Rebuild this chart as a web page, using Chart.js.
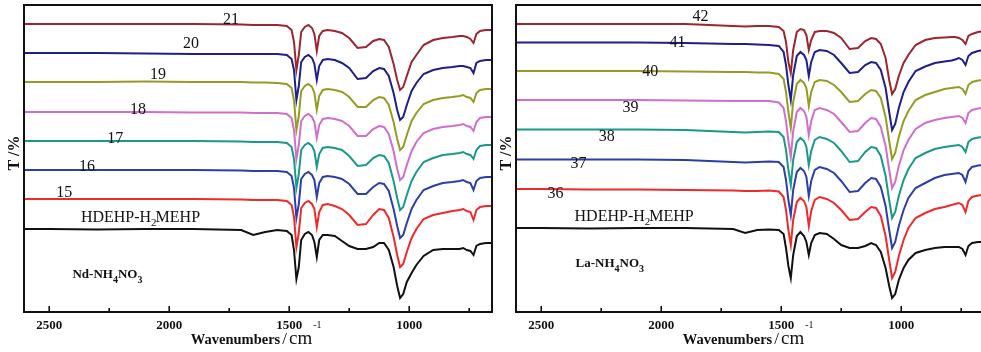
<!DOCTYPE html>
<html><head><meta charset="utf-8">
<script src="https://cdn.jsdelivr.net/npm/chart.js@4.4.1/dist/chart.umd.min.js"></script>
<style>
html,body{margin:0;padding:0;background:#fff;overflow:hidden;width:981px;height:352px;}
#wrap{position:relative;width:981px;height:352px;overflow:hidden;}
canvas{position:absolute;top:0;}
#cL{left:0;} #cR{left:495px;}
</style></head><body>
<div id="wrap"><canvas id="cL" width="500" height="352"></canvas><canvas id="cR" width="510" height="352"></canvas></div>
<script>
// Wavenumbers (cm-1) at which each spectrum was read
const wavenumbers = [2605,2500,2300,2100,1900,1700,1650,1600,1550,1510,1490,1480,1470,1460,1450,1435,1420,1405,1395,1385,1375,1360,1340,1310,1280,1250,1215,1180,1150,1125,1105,1085,1065,1050,1038,1025,1010,990,970,940,900,860,820,790,775,760,745,732,720,705,680,655];

// Nd-NH4NO3 panel (stacked transmittance, arbitrary units)
const ndRef = [83,83,82.5,83,83,82,77,80,82,81, 77,62,33,45,72, 78,80,77,70,55, 72,77,77,76,71, 66,63,63,65,69, 69,62,45,26,14, 18,30,39,47,56, 62,63,63,63,64, 62,61,57,66,68, 69,69];
const nd15 = [113,113,113,113,113,112.5,112,112,112,111, 107,95,65,79,104, 109,111,108,103,85, 100,107,108,106,103, 97,87,88,97,103, 102,94,75,57,45, 48,60,74,83,93, 97,99,101,102,103, 101,100,92,102,105, 106,106];
const nd16 = [142,142,142,142,142,141.5,141,141,141,140, 136,124,94,108,133, 138,140,137,132,115, 129,135,136,135,133, 128,118,118,125,129, 128,121,103,86,74, 77,89,103,112,122, 126,129,130,131,132, 130,129,122,131,134, 135,135];
const nd17 = [171,171,171,171,171,170.5,170,170,170,169, 165,153,124,138,162, 167,169,166,161,145, 158,164,165,164,162, 156,146,147,154,157, 156,149,131,114,102, 105,117,131,140,150, 154,157,158,159,160, 158,157,153,162,166, 167,167];
const nd18 = [200,200,200,200,199.5,199.5,199,199,199,198, 194,182,153,167,191, 196,198,195,190,174, 187,193,194,193,191, 186,176,176,183,186, 185,178,161,143,132, 135,147,161,170,179, 183,185,186,187,188, 186,185,181,190,194, 195,195];
const nd19 = [230,230,230,230.5,230,230,229.5,229.5,229,228, 224,212,182,196,221, 226,228,225,219,202, 216,222,223,222,220, 215,205,205,212,215, 214,207,190,173,162, 165,177,191,199,208, 212,214,215,216,217, 215,214,210,219,222, 223,223];
const nd20 = [259,259,259,258.5,258,258,258,258,258,257, 253,242,212,226,250, 255,257,254,248,232, 246,252,253,252,249, 244,233,234,241,244, 243,236,219,202,192, 195,207,221,229,238, 242,244,245,246,246, 245,244,239,249,251, 252,252];
const nd21 = [288,288,288,288,288,287.5,287,287,287,286, 282,270,242,257,280, 285,287,284,278,261, 276,281,282,281,279, 274,264,265,271,273, 272,265,248,232,222, 225,236,250,257,267, 272,274,275,276,276, 275,273,269,278,281, 282,282];

// La-NH4NO3 panel
const laRef = [84,84,83.5,84,84,83,79,82,82.5,82, 78,64,46,34,57, 76,80,76,70,57, 69,77,79,78,73, 67,64,64,66,69, 67,60,44,26,14, 18,32,44,52,59, 62,64,65,65,65, 65,63,57,66,69, 70,70];
const la36 = [123,123,122.5,122.5,122,121.5,121,121,121.5,120.5, 115,102,82,67,92, 110,114,111,105,86, 101,112,115,113,109, 102,92,93,100,105, 104,96,76,52,34, 40,56,72,84,94, 99,103,105,107,108, 109,107,100,111,115, 116.5,117];
const la37 = [152.5,152.5,152.5,152.5,152,150,149.5,150,150.5,150, 145,132,112,97,122, 140,144,141,135,116, 131,142,145,143,139, 131,120,121,129,134, 133,125,106,82,64, 70,86,102,114,124, 129,134,137,138,138.5, 139,137,130,141,145, 146.5,147];
const la38 = [182.5,182.5,182.5,182.5,182,180,179.5,180,180.5,180, 175,162,142,127,152, 170,174,171,165,147, 161,172,175,173,169, 161,150,151,160,165, 164,156,136,112,94, 100,116,132,143,154, 159,163,165,166,166.5, 167,165,160,170,173, 174.5,175];
const la39 = [212,212,212,212,211.5,211,211,211,211,209.5, 204,191,171,155,181, 200,204,201,195,177, 191,202,204,202,198, 190,180,181,189,194, 193,185,166,142,124, 130,146,162,172,183, 189,192,194,195,195.5, 196,194,189,199,202, 203.5,204];
const la40 = [241,241,241,241,240.5,240,240,239.5,239.5,238, 233,220,200,184,210, 228,232,229,224,206, 220,230,232,231,227, 220,210,211,218,222, 221,214,195,171,153, 159,175,191,201,212, 217,220,223,224,224.5, 225,223,218,227,230, 231.5,232];
const la41 = [269.5,269.5,269.5,269.5,269,268,268,267.5,267,266, 260,247,227,212,237, 256,260,257,252,236, 250,260,262,261,257, 249,239,240,247,250, 249,242,224,200,182, 188,204,220,230,241, 245.5,249,250.5,251.5,252.5, 254,252,247,256,259, 261,262];
const la42 = [288,288,288,288,288,286,285.5,286,286,285, 281,270,250,239,262, 280,283,282,277,262, 272,280,281,281,279, 274,263,264,271,274, 273,268,254,232,218, 223,236,249,257,267, 272,274,274.5,275,275, 274,272,268,276,278, 280,281];

const ndNames = ['HDEHP-H2MEHP','15','16','17','18','19','20','21'];
const laNames = ['HDEHP-H2MEHP','36','37','38','39','40','41','42'];
const tickValues = [2500,2250,2000,1750,1500,1250,1000,750];

// styling / placement (kept apart from data)
const colors = ['#111111','#ee2a2a','#2c3fa8','#1a998a','#cf6fcb','#959b24','#1f1f8a','#9b2631'];
const ndLabelWn = [2437,2342,2225,2130,2047,1909,1743];
const ndLabelT  = [119,145,173,202.5,237,268,292];
const laLabelWn = [2440,2345,2227,2128,2046,1932,1836];
const laLabelT  = [118.5,148,175,204.5,240,269,295];

const SERIF = '"Liberation Serif", "Times New Roman", serif';

function rich(ctx, x0, yb, parts){
  let x = x0;
  parts.forEach(p => {
    ctx.font = p.f;
    ctx.fillText(p.t, x, yb + (p.dy || 0));
    x += ctx.measureText(p.t).width + (p.k || 0);
  });
}

function decor(cfg){
  return {
    id: 'decor' + cfg.key,
    afterDatasetsDraw(chart){
      const ctx = chart.ctx, a = chart.chartArea, x = chart.scales.x, y = chart.scales.y;
      ctx.save();
      ctx.strokeStyle = '#111'; ctx.lineWidth = 2;
      ctx.strokeRect(a.left, a.top, a.right - a.left, a.bottom - a.top);
      ctx.lineWidth = 1.6;
      tickValues.forEach(v => {
        const px = x.getPixelForValue(v);
        const len = v % 500 === 0 ? 6 : 4;
        ctx.beginPath(); ctx.moveTo(px, a.bottom); ctx.lineTo(px, a.bottom - len); ctx.stroke();
      });
      ctx.fillStyle = '#111';
      // curve numbers
      ctx.font = '16px ' + SERIF; ctx.textAlign = 'center'; ctx.textBaseline = 'middle';
      cfg.names.slice(1).forEach((t, i) => {
        ctx.fillText(t, x.getPixelForValue(cfg.labelWn[i]), y.getPixelForValue(cfg.labelT[i]));
      });
      ctx.textAlign = 'left'; ctx.textBaseline = 'alphabetic';
      // reference curve label
      rich(ctx, x.getPixelForValue(cfg.refWn), y.getPixelForValue(cfg.refT), [
        {t:'HDEHP-H', f:'16px ' + SERIF},
        {t:'2', f:'11px ' + SERIF, dy:4, k:-1},
        {t:'MEHP', f:'16px ' + SERIF}
      ]);
      // system label
      rich(ctx, x.getPixelForValue(cfg.sysWn), y.getPixelForValue(cfg.sysT), [
        {t:cfg.sys[0], f:'bold 13px ' + SERIF},
        {t:'4', f:'bold 10px ' + SERIF, dy:5},
        {t:'NO', f:'bold 13px ' + SERIF},
        {t:'3', f:'bold 10px ' + SERIF, dy:5}
      ]);
      // x title
      rich(ctx, x.getPixelForValue(1910), 344, [
        {t:'Wavenumbers', f:'bold 14.5px ' + SERIF, k:2},
        {t:'/', f:'17px ' + SERIF, k:2},
        {t:'cm', f:'19px ' + SERIF, k:1},
        {t:'-1', f:'10px ' + SERIF, dy:-16}
      ]);
      // y title
      ctx.translate(a.left - 9, 153);
      ctx.rotate(-Math.PI / 2);
      ctx.font = 'bold 16px ' + SERIF; ctx.textAlign = 'center'; ctx.textBaseline = 'middle';
      ctx.fillText('T /%', 0, 0);
      ctx.restore();
    }
  };
}

function makeChart(id, series, names, padL, padR, cfg){
  return new Chart(document.getElementById(id), {
    type: 'line',
    data: {
      datasets: series.map((s, i) => ({
        label: names[i],
        data: wavenumbers.map((w, j) => ({x: w, y: s[j]})),
        borderColor: colors[i], borderWidth: 2, pointRadius: 0, tension: 0, fill: false
      }))
    },
    options: {
      responsive: false, animation: false, devicePixelRatio: 1,
      layout: {padding: {left: padL, right: padR, top: 5, bottom: 0}},
      plugins: {legend: {display: false}, tooltip: {enabled: false}},
      scales: {
        x: {
          type: 'linear', reverse: true, min: 655, max: 2605,
          grid: {display: false, drawTicks: false}, border: {display: false},
          afterBuildTicks: s => { s.ticks = tickValues.map(v => ({value: v})); },
          afterFit: s => { s.height = 40; },
          ticks: {autoSkip: false, maxRotation: 0, padding: 6, color: '#111',
            font: {family: 'Liberation Serif', size: 13, weight: 'bold'},
            callback: v => (v % 500 === 0 ? String(v) : '')}
        },
        y: {display: false, min: 0, max: 307}
      }
    },
    plugins: [decor(cfg)]
  });
}

makeChart('cL', [ndRef, nd15, nd16, nd17, nd18, nd19, nd20, nd21], ndNames, 24, 8, {
  key: 'L', names: ndNames, labelWn: ndLabelWn, labelT: ndLabelT,
  refWn: 2368, refT: 90, sysWn: 2403, sysT: 34, sys: ['Nd-NH']
});
makeChart('cR', [laRef, la36, la37, la38, la39, la40, la41, la42], laNames, 21, 21, {
  key: 'R', names: laNames, labelWn: laLabelWn, labelT: laLabelT,
  refWn: 2361, refT: 91, sysWn: 2357, sysT: 45, sys: ['La-NH']
});
</script>
</body></html>
